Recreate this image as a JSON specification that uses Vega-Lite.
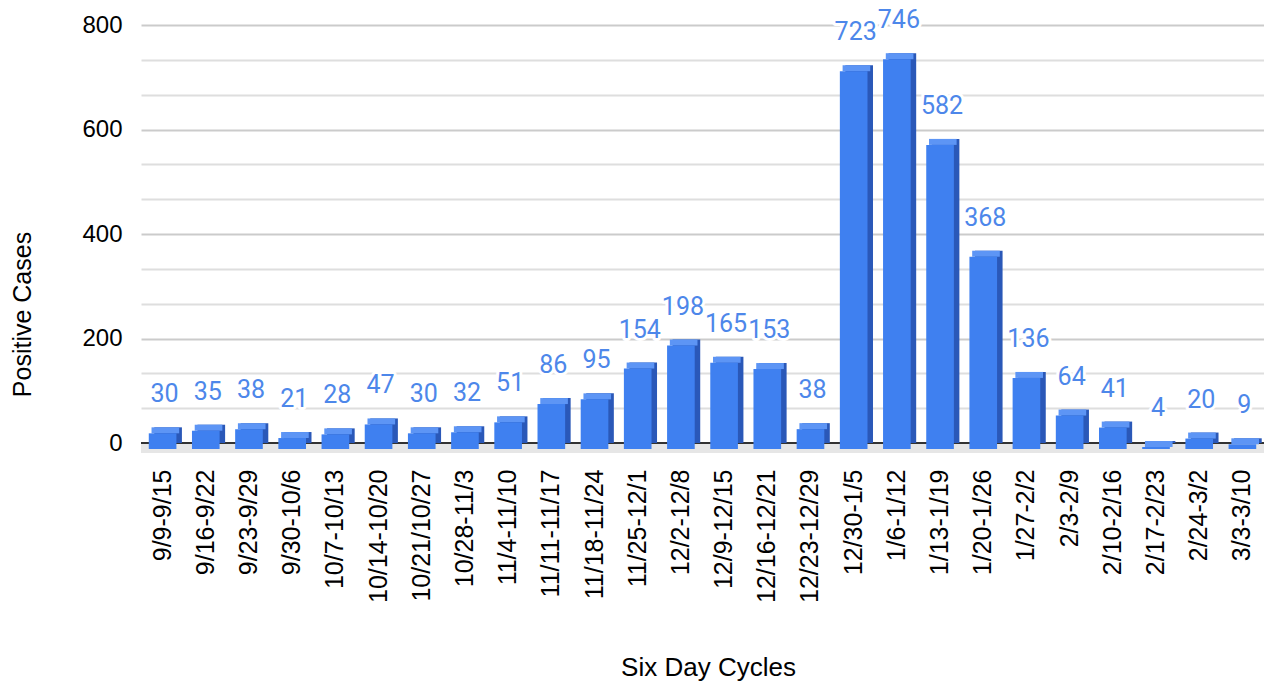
{
  "$schema": "https://vega.github.io/schema/vega-lite/v6.json",
  "autosize": {"type": "none"},
  "padding": {"left": 141, "top": 25, "right": 0, "bottom": 241},
  "width": 1123,
  "height": 418,
  "background": "white",
  "config": {"view": {"stroke": null}},
  "data": {"values": [
    {"cycle": "9/9-9/15", "cases": 30},
    {"cycle": "9/16-9/22", "cases": 35},
    {"cycle": "9/23-9/29", "cases": 38},
    {"cycle": "9/30-10/6", "cases": 21},
    {"cycle": "10/7-10/13", "cases": 28},
    {"cycle": "10/14-10/20", "cases": 47},
    {"cycle": "10/21/10/27", "cases": 30},
    {"cycle": "10/28-11/3", "cases": 32},
    {"cycle": "11/4-11/10", "cases": 51},
    {"cycle": "11/11-11/17", "cases": 86},
    {"cycle": "11/18-11/24", "cases": 95},
    {"cycle": "11/25-12/1", "cases": 154},
    {"cycle": "12/2-12/8", "cases": 198},
    {"cycle": "12/9-12/15", "cases": 165},
    {"cycle": "12/16-12/21", "cases": 153},
    {"cycle": "12/23-12/29", "cases": 38},
    {"cycle": "12/30-1/5", "cases": 723},
    {"cycle": "1/6-1/12", "cases": 746},
    {"cycle": "1/13-1/19", "cases": 582},
    {"cycle": "1/20-1/26", "cases": 368},
    {"cycle": "1/27-2/2", "cases": 136},
    {"cycle": "2/3-2/9", "cases": 64},
    {"cycle": "2/10-2/16", "cases": 41},
    {"cycle": "2/17-2/23", "cases": 4},
    {"cycle": "2/24-3/2", "cases": 20},
    {"cycle": "3/3-3/10", "cases": 9}
  ]},
  "encoding": {
    "x": {
      "field": "cycle", "type": "nominal", "sort": null,
      "scale": {"paddingInner": 0, "paddingOuter": 0},
      "axis": {
        "title": "Six Day Cycles",
        "titleFont": "Liberation Sans", "titleFontSize": 26, "titleFontWeight": "normal", "titleColor": "#000000",
        "titleY": 224, "titleBaseline": "middle", "titleX": 567,
        "labelAngle": -90, "labelFont": "Liberation Sans", "labelFontSize": 25, "labelColor": "#000000",
        "labelPadding": 26, "ticks": false, "domain": false, "labelOverlap": false, "labelLimit": 300
      }
    },
    "y": {
      "field": "cases", "type": "quantitative",
      "scale": {"domain": [0, 800], "nice": false},
      "axis": {
        "title": "Positive Cases",
        "titleFont": "Liberation Sans", "titleFontSize": 25, "titleFontWeight": "normal", "titleColor": "#000000",
        "titleAngle": -90, "titleX": -119, "titleY": 289, "titleBaseline": "middle", "titleAlign": "center",
        "values": [0, 66.6667, 133.3333, 200, 266.6667, 333.3333, 400, 466.6667, 533.3333, 600, 666.6667, 733.3333, 800],
        "labelExpr": "datum.value % 200 === 0 ? datum.label : ''",
        "labelFont": "Liberation Sans", "labelFontSize": 24, "labelColor": "#000000",
        "labelPadding": 19, "ticks": false, "domain": false,
        "grid": true,
        "gridWidth": 2,
        "gridColor": {"condition": {"test": "datum.value % 200 === 0", "value": "#cbcbcb"}, "value": "#dedede"}
      }
    }
  },
  "layer": [
    {
      "mark": {"type": "rule", "color": "#e6e6e6", "strokeWidth": 10, "yOffset": 5},
      "encoding": {"y": {"datum": 0}, "x": null}
    },
    {
      "mark": {"type": "rule", "color": "#333333", "strokeWidth": 1.5},
      "encoding": {"y": {"datum": 0}, "x": null}
    },
    {
      "mark": {"type": "bar", "color": "#2a58b8", "width": {"band": 0.64}, "xOffset": 5.5, "x2Offset": 5.5, "yOffset": 0, "y2Offset": 0}
    },
    {
      "mark": {"type": "bar", "color": "#5d95f5", "width": {"band": 0.64}, "xOffset": 2.75, "x2Offset": 2.75, "yOffset": 0, "y2Offset": 6},
      "encoding": {"y2": {"field": "cases"}}
    },
    {
      "mark": {"type": "bar", "color": "#3f80f0", "width": {"band": 0.64}, "xOffset": 0, "x2Offset": 0, "yOffset": 6, "y2Offset": 6}
    },
    {
      "mark": {"type": "text", "font": "Roboto", "fontSize": 25, "dy": -33, "dx": 2, "baseline": "middle", "align": "center",
               "stroke": "white", "strokeWidth": 6, "strokeJoin": "round", "fill": "white"},
      "encoding": {"text": {"field": "cases"}}
    },
    {
      "mark": {"type": "text", "font": "Roboto", "fontSize": 25, "dy": -33, "dx": 2, "baseline": "middle", "align": "center", "color": "#4d87ea"},
      "encoding": {"text": {"field": "cases"}}
    }
  ]
}
